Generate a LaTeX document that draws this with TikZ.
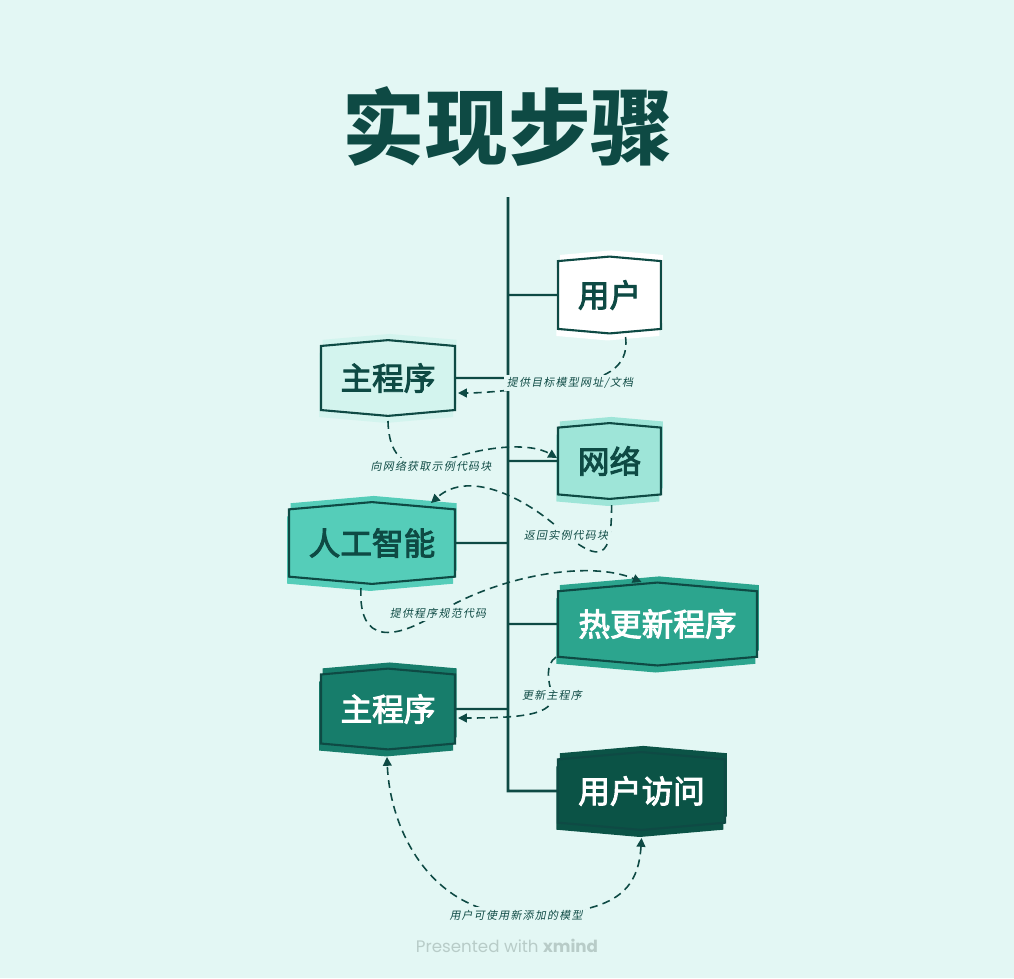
\documentclass[tikz,border=0pt]{standalone}
\usepackage{fontspec}
\newfontfamily\cjk{Noto Sans CJK SC}
\newfontfamily\cjkmid{Noto Sans CJK SC}[FakeBold=3]
\newfontfamily\cjkslant{Noto Sans CJK SC}[FakeSlant=0.2,LetterSpace=12]
\newfontfamily\credit{Poppins}
\usepackage{tikz}
\usetikzlibrary{shapes.symbols, arrows.meta, positioning, calc}
\definecolor{bgmint}{HTML}{E3F7F4}
\definecolor{inkdark}{HTML}{0E4A44}
\definecolor{stepone}{HTML}{D3F4EE}
\definecolor{steptwo}{HTML}{9EE5D8}
\definecolor{stepthree}{HTML}{55CDB9}
\definecolor{stepfour}{HTML}{2CA58E}
\definecolor{stepfive}{HTML}{177D6B}
\definecolor{stepsix}{HTML}{0B5346}
\definecolor{creditgrey}{HTML}{B8CCC8}
\tikzset{
  hexbox/.style 2 args={
    signal, signal to=north and south, signal pointer angle=170,
    draw=inkdark, line width=1.2pt, fill=#1, text=#2,
    inner sep=2pt, font=\cjkmid\fontsize{18}{20}\selectfont,
    preaction={fill=#1, draw=none, transform canvas={xshift=1pt, yshift=3.5pt}},
    preaction={fill=#1, draw=none, transform canvas={xshift=-1pt, yshift=-4pt}}
  },
  title/.style={font=\cjk\bfseries\fontsize{47}{50}\selectfont, text=inkdark},
  spine/.style={draw=inkdark, line width=1.6pt},
  branch/.style={draw=inkdark, line width=1.3pt},
  rel/.style={draw=inkdark, line width=0.9pt, dash pattern=on 4.5pt off 3pt,
    -{Triangle[length=5pt,width=5pt]}},
  lbl/.style={font=\cjkslant\fontsize{6.2}{7.5}\selectfont, text=inkdark,
    fill=bgmint, inner sep=1.5pt},
}
\begin{document}
\begin{tikzpicture}[x=0.02cm, y=-0.02cm]
  \fill[bgmint] (0,0) rectangle (1014,978);
  \useasboundingbox (0,0) rectangle (1014,978);

  \node (title) [title] at (508,127) {实现步骤};

  % points on the spine
  \coordinate (top) at (508,197);
  \coordinate (b1)  at (508,295);
  \coordinate (b2)  at (508,378);
  \coordinate (b3)  at (508,461);
  \coordinate (b4)  at (508,543);
  \coordinate (b5)  at (508,624);
  \coordinate (b6)  at (508,709);
  \coordinate (b7)  at (508,791);

  \node (user)  [hexbox={white}{inkdark},     minimum width=2.06cm, minimum height=1.48cm, right=0.98cm of b1] {用户};
  \node (main1) [hexbox={stepone}{inkdark},   minimum width=2.68cm, minimum height=1.46cm, left=1.04cm of b2]  {主程序};
  \node (net)   [hexbox={steptwo}{inkdark},   minimum width=2.06cm, minimum height=1.46cm, right=0.98cm of b3] {网络};
  \node (ai)    [hexbox={stepthree}{inkdark}, minimum width=3.32cm, minimum height=1.58cm, left=1.04cm of b4]  {人工智能};
  \node (hot)   [hexbox={stepfour}{white},    minimum width=3.98cm, minimum height=1.60cm, right=0.98cm of b5] {热更新程序};
  \node (main2) [hexbox={stepfive}{white},    minimum width=2.68cm, minimum height=1.56cm, left=1.04cm of b6]  {主程序};
  \node (visit) [hexbox={stepsix}{white},     minimum width=3.34cm, minimum height=1.50cm, right=0.98cm of b7] {用户访问};

  \draw [spine] (top) -- (b7) -- (visit);
  \foreach \b/\n in {b1/user, b2/main1, b3/net, b4/ai, b5/hot, b6/main2}
    \draw [branch] (\b) -- (\n);

  % relationships
  \draw [rel] ($(user.center)+(16,42)$) .. controls (630,370) and (600,380) .. (570,383)
    node[lbl] {提供目标模型网址/文档}
    .. controls (530,388) and (490,393) .. ($(main1.east)+(2,15)$);
  \draw [rel] ($(main1.center)+(0,43)$) .. controls (389,462) and (410,466) .. (431,466)
    node[lbl] {向网络获取示例代码块}
    .. controls (480,445) and (530,442) .. ($(net.west)+(0,-3)$);
  \draw [rel] ($(net.center)+(2,44)$) .. controls (612,560) and (600,562) .. (566,535)
    node[lbl] {返回实例代码块}
    .. controls (530,500) and (470,468) .. ($(ai.center)+(59,-40)$);
  \draw [rel] ($(ai.center)+(-11,45)$) .. controls (358,645) and (395,640) .. (438,613)
    node[lbl] {提供程序规范代码}
    .. controls (500,575) and (590,560) .. ($(hot.center)+(-16,-42)$);
  \draw [rel] ($(hot.west)+(-1,33)$) .. controls (545,665) and (548,680) .. (552,695)
    node[lbl] {更新主程序}
    .. controls (555,715) and (520,718) .. ($(main2.east)+(2,9)$);
  \draw [rel, {Triangle[length=5pt,width=5pt]}-{Triangle[length=5pt,width=5pt]}]
    ($(visit.center)+(0,47)$) .. controls (638,895) and (610,915) .. (516,915)
    node[lbl] {用户可使用新添加的模型}
    .. controls (430,910) and (390,830) .. ($(main2.center)+(-1,48)$);

  \node (credit) at (507,946) [font=\credit\fontsize{9.5}{11}\selectfont, text=creditgrey]
    {Presented with \textbf{xmind}};
\end{tikzpicture}
\end{document}
